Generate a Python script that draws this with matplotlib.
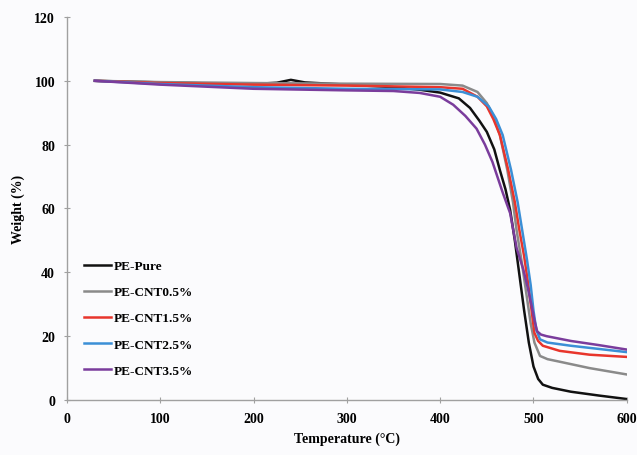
import matplotlib.pyplot as plt

# TGA curves (temperature in degC, weight in %)
t_pure = [30, 100, 150, 200, 225, 240, 255, 300, 350, 378, 400, 420, 432, 442, 450, 458, 464, 470, 475, 480, 485, 490, 495, 500, 505, 510, 520, 540, 570, 600]
w_pure = [100, 99.5, 99.2, 99.0, 99.4, 100.3, 99.5, 98.8, 98.0, 97.2, 96.3, 94.5, 91.5, 87.5, 84.0, 78.5, 72.0, 66.0, 59.5, 50.0, 39.0, 28.0, 18.0, 10.5, 6.6, 4.8, 3.8, 2.6, 1.4, 0.3]

t_05 = [30, 100, 200, 300, 400, 424, 440, 450, 457, 464, 472, 478, 482, 487, 492, 497, 501, 507, 515, 528, 560, 600]
w_05 = [100, 99.6, 99.3, 99.1, 99.0, 98.5, 96.5, 93.0, 89.0, 83.0, 72.0, 62.0, 53.0, 44.0, 34.0, 24.0, 18.0, 13.8, 12.8, 12.0, 10.0, 8.0]

t_15 = [30, 100, 200, 300, 400, 424, 440, 450, 457, 464, 473, 480, 485, 490, 494, 498, 501, 505, 510, 528, 560, 600]
w_15 = [100, 99.3, 98.8, 98.5, 98.0, 97.5, 95.0, 92.0, 88.0, 83.0, 72.0, 62.0, 53.0, 45.0, 37.0, 28.0, 21.0, 18.5, 17.0, 15.4, 14.2, 13.5]

t_25 = [30, 100, 200, 300, 400, 424, 440, 452, 460, 467, 476, 483, 488, 493, 497, 500, 503, 507, 515, 540, 570, 600]
w_25 = [100, 99.0, 98.0, 97.5, 97.3, 96.5, 95.0, 92.0, 88.0, 83.0, 72.0, 62.0, 53.0, 44.0, 36.0, 28.0, 22.0, 19.0, 18.0, 17.0, 16.0, 15.0]

t_35 = [30, 100, 200, 300, 350, 378, 400, 414, 427, 439, 448, 456, 467, 475, 482, 489, 494, 498, 501, 504, 508, 514, 540, 570, 600]
w_35 = [100, 98.8, 97.5, 97.0, 96.8, 96.2, 95.0, 92.5, 89.0, 85.0, 80.0, 74.6, 65.0, 58.5, 47.5, 41.0, 35.0, 29.5, 25.0, 21.5, 20.5, 20.0, 18.5, 17.2, 15.8]

labels = ["PE-Pure", "PE-CNT0.5%", "PE-CNT1.5%", "PE-CNT2.5%", "PE-CNT3.5%"]
colors = ["#111111", "#8a8a8a", "#e8352c", "#3b8fd6", "#7a3c9c"]

serif = ["Liberation Serif", "DejaVu Serif"]

fig = plt.figure(figsize=(6.37, 4.56), dpi=100)
fig.patch.set_facecolor("#fbfbfd")
ax = fig.add_axes([0.105, 0.1206, 0.879, 0.84])
ax.set_facecolor("#fbfbfd")

series = [(t_pure, w_pure), (t_05, w_05), (t_15, w_15), (t_25, w_25), (t_35, w_35)]
for (t, w), lab, c in zip(series, labels, colors):
    ax.plot(t, w, color=c, lw=1.8, label=lab, solid_joinstyle="round")

ax.set_xlim(0, 600)
ax.set_ylim(0, 120)
ax.set_xticks(range(0, 601, 100))
ax.set_yticks(range(0, 121, 20))

for s in ["top", "right"]:
    ax.spines[s].set_visible(False)
for s in ["left", "bottom"]:
    ax.spines[s].set_color("#a0a0a0")
    ax.spines[s].set_linewidth(1.0)

ax.tick_params(axis="both", direction="inout", length=5, color="#a0a0a0", labelsize=10, pad=6)
for lbl in ax.get_xticklabels() + ax.get_yticklabels():
    lbl.set_family(serif)
    lbl.set_fontweight("bold")

ax.set_xlabel("Temperature (°C)", family=serif, fontweight="bold", fontsize=10, labelpad=5)
ax.set_ylabel("Weight (%)", family=serif, fontweight="bold", fontsize=10, labelpad=7)

leg = ax.legend(loc="lower left", bbox_to_anchor=(0.01, 0.03), frameon=False,
                prop={"family": serif, "weight": "bold", "size": 9.5},
                handlelength=2.0, handletextpad=0.2, labelspacing=1.05)

fig.savefig("out.png", dpi=100, facecolor=fig.get_facecolor())
